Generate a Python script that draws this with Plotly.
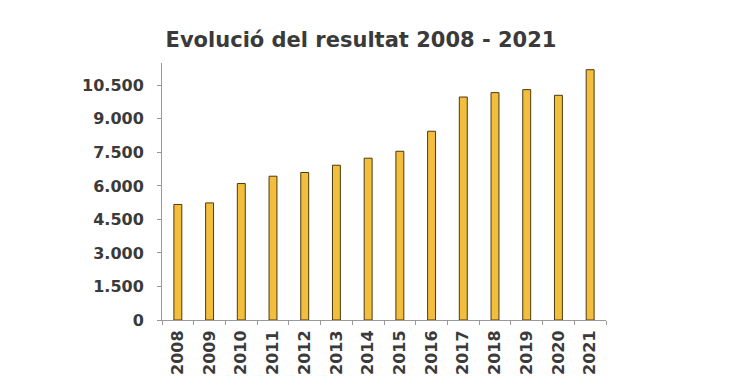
import plotly.graph_objects as go

years = ["2008", "2009", "2010", "2011", "2012", "2013", "2014",
         "2015", "2016", "2017", "2018", "2019", "2020", "2021"]
resultat = [5170, 5240, 6106, 6434, 6600, 6926, 7240,
            7551, 8445, 9978, 10174, 10308, 10054, 11200]
y_tick_vals = [0, 1500, 3000, 4500, 6000, 7500, 9000, 10500]
y_tick_text = ["0", "1.500", "3.000", "4.500", "6.000", "7.500", "9.000", "10.500"]

font_fam = "DejaVu Sans, sans-serif"
text_col = "#3a3a3a"

fig = go.Figure(go.Bar(
    x=years, y=resultat,
    marker=dict(color="#F2BE3C", line=dict(color="#4a3a12", width=1)),
))

fig.update_layout(
    width=734, height=389,
    margin=dict(l=154, r=136, t=55, b=77),
    paper_bgcolor="white", plot_bgcolor="white",
    bargap=0.75,
    showlegend=False,
    title=dict(text="<b>Evolució del resultat 2008 - 2021</b>",
               x=353 / 734, xanchor="center", y=1 - 32 / 389, yanchor="middle",
               font=dict(family=font_fam, size=21, color=text_col)),
)
fig.update_xaxes(
    type="category", showline=True, linecolor="#999999", linewidth=1,
    ticks="outside", tickson="boundaries", ticklen=4, tickcolor="#999999",
    tickangle=-90, showgrid=False,
    tickfont=dict(family=font_fam, size=16, color=text_col),
    ticklabelstandoff=3,
    tickprefix="<b>", ticksuffix="</b>",
)
fig.update_yaxes(
    range=[0, 11500], showline=True, linecolor="#999999", linewidth=1,
    ticks="outside", ticklen=4, tickcolor="#999999",
    tickvals=y_tick_vals, ticktext=["<b>" + t + "</b>" for t in y_tick_text],
    showgrid=False, zeroline=False,
    tickfont=dict(family=font_fam, size=16, color=text_col),
    ticklabelstandoff=10,
)

fig.write_html("out.html")
